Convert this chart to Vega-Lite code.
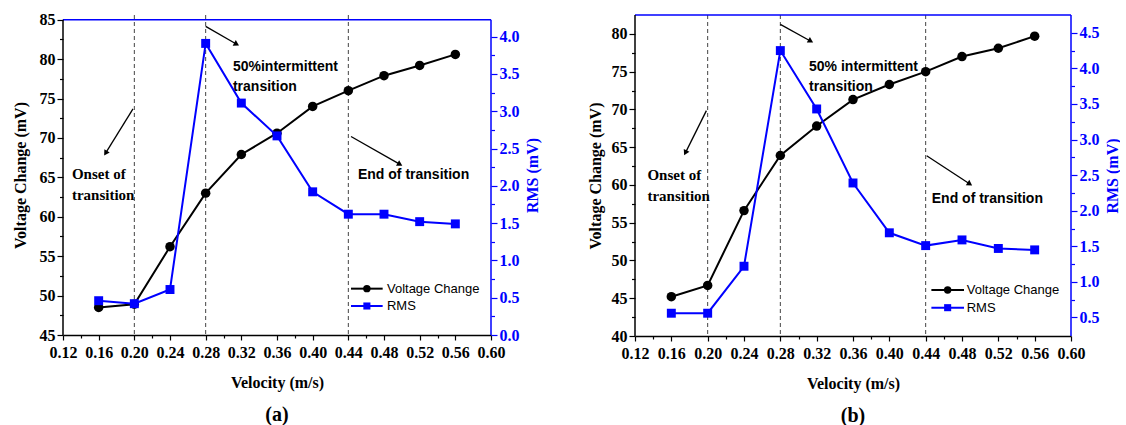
{
  "$schema": "https://vega.github.io/schema/vega-lite/v6.json",
  "padding": {"left": 12, "top": 11, "right": 0, "bottom": 0},
  "background": "white",
  "spacing": 47,
  "datasets": {
    "a": [
      {"velocity": 0.16, "voltage": 48.5, "rms": 0.46},
      {"velocity": 0.20, "voltage": 48.9, "rms": 0.42},
      {"velocity": 0.24, "voltage": 56.2, "rms": 0.61},
      {"velocity": 0.28, "voltage": 63.0, "rms": 3.91},
      {"velocity": 0.32, "voltage": 67.9, "rms": 3.11},
      {"velocity": 0.36, "voltage": 70.6, "rms": 2.67},
      {"velocity": 0.40, "voltage": 74.0, "rms": 1.92},
      {"velocity": 0.44, "voltage": 76.0, "rms": 1.62},
      {"velocity": 0.48, "voltage": 77.9, "rms": 1.62},
      {"velocity": 0.52, "voltage": 79.2, "rms": 1.52},
      {"velocity": 0.56, "voltage": 80.6, "rms": 1.49}
    ],
    "b": [
      {"velocity": 0.16, "voltage": 45.2, "rms": 0.56},
      {"velocity": 0.20, "voltage": 46.7, "rms": 0.56},
      {"velocity": 0.24, "voltage": 56.6, "rms": 1.22},
      {"velocity": 0.28, "voltage": 63.9, "rms": 4.25},
      {"velocity": 0.32, "voltage": 67.8, "rms": 3.43},
      {"velocity": 0.36, "voltage": 71.3, "rms": 2.39},
      {"velocity": 0.40, "voltage": 73.3, "rms": 1.69},
      {"velocity": 0.44, "voltage": 75.0, "rms": 1.51},
      {"velocity": 0.48, "voltage": 77.0, "rms": 1.59},
      {"velocity": 0.52, "voltage": 78.1, "rms": 1.47},
      {"velocity": 0.56, "voltage": 79.7, "rms": 1.45}
    ],
    "marks": [{"velocity": 0.20}, {"velocity": 0.28}, {"velocity": 0.44}],
    "one": [{}]
  },
  "hconcat": [
    {
      "width": 428,
      "height": 320,
      "title": {"text": "(a)", "orient": "bottom", "font": "Liberation Serif", "fontSize": 20, "fontWeight": "bold", "offset": 15, "frame": "group", "color": "black"},
      "layer": [
        {
          "layer": [
            {"data": {"name": "marks"}, "mark": {"type": "rule", "color": "#444", "strokeDash": [4, 3], "strokeWidth": 1}, "encoding": {"x": {"field": "velocity", "type": "quantitative"}}},
            {"data": {"name": "one"}, "mark": {"type": "rule", "color": "#0000ff", "strokeWidth": 1.5}, "encoding": {"y": {"datum": 85, "type": "quantitative"}}},
            {"data": {"name": "one"}, "mark": {"type": "rule", "color": "#0000ff", "strokeWidth": 1.5}, "encoding": {"x": {"datum": 0.6, "type": "quantitative"}, "y": {"datum": 45, "type": "quantitative"}, "y2": {"datum": 85}}},
            {"data": {"name": "one"}, "mark": {"type": "rule", "color": "black", "strokeWidth": 1.5}, "encoding": {"x": {"datum": 0.12, "type": "quantitative"}, "y": {"datum": 45, "type": "quantitative"}, "y2": {"datum": 85}}},
            {
              "data": {"name": "a"},
              "mark": {"type": "line", "color": "black", "strokeWidth": 2},
              "encoding": {
                "x": {"field": "velocity", "type": "quantitative", "scale": {"domain": [0.12, 0.6], "nice": false, "zero": false},
                  "axis": {"orient": "bottom", "title": "Velocity (m/s)", "values": [0.12,0.2,0.28,0.36,0.44,0.52,0.6],
                    "format": ".2f", "tickSize": 5, "labelPadding": 4, "titlePadding": 14}},
                "y": {"field": "voltage", "type": "quantitative", "scale": {"domain": [45, 85.6], "nice": false, "zero": false},
                  "axis": {"orient": "left", "title": "Voltage Change (mV)", "values": [45,55,65,75,85],
                    "format": "d", "tickSize": 6, "domain": false, "labelPadding": 2, "titlePadding": 11}}
              }
            },
            {"data": {"name": "a"}, "mark": {"type": "point", "shape": "circle", "filled": true, "size": 90, "color": "black", "opacity": 1}, "encoding": {"x": {"field": "velocity", "type": "quantitative"}, "y": {"field": "voltage", "type": "quantitative"}}},
            {"data": {"name": "one"}, "mark": {"type": "rule", "color": "black", "strokeWidth": 1.3}, "encoding": {"x": {"datum": 0.1985, "type": "quantitative"}, "y": {"datum": 73.7, "type": "quantitative"}, "x2": {"datum": 0.1683}, "y2": {"datum": 68.16}}},
            {"data": {"name": "one"}, "mark": {"type": "point", "shape": "triangle", "filled": true, "size": 40, "angle": 211.7, "color": "black", "opacity": 1}, "encoding": {"x": {"datum": 0.1683, "type": "quantitative"}, "y": {"datum": 68.16, "type": "quantitative"}}},
            {"data": {"name": "one"}, "mark": {"type": "rule", "color": "black", "strokeWidth": 1.3}, "encoding": {"x": {"datum": 0.28, "type": "quantitative"}, "y": {"datum": 84.15, "type": "quantitative"}, "x2": {"datum": 0.3138}, "y2": {"datum": 81.95}}},
            {"data": {"name": "one"}, "mark": {"type": "point", "shape": "triangle", "filled": true, "size": 40, "angle": 119.4, "color": "black", "opacity": 1}, "encoding": {"x": {"datum": 0.3138, "type": "quantitative"}, "y": {"datum": 81.95, "type": "quantitative"}}},
            {"data": {"name": "one"}, "mark": {"type": "rule", "color": "black", "strokeWidth": 1.3}, "encoding": {"x": {"datum": 0.443, "type": "quantitative"}, "y": {"datum": 70.18, "type": "quantitative"}, "x2": {"datum": 0.497}, "y2": {"datum": 66.71}}},
            {"data": {"name": "one"}, "mark": {"type": "point", "shape": "triangle", "filled": true, "size": 40, "angle": 119.5, "color": "black", "opacity": 1}, "encoding": {"x": {"datum": 0.497, "type": "quantitative"}, "y": {"datum": 66.71, "type": "quantitative"}}},
            {"data": {"name": "one"}, "mark": {"type": "text", "text": ["Onset of", "transition"], "lineHeight": 21, "align": "left", "baseline": "middle", "font": "Liberation Serif", "fontWeight": "bold", "fontSize": 15, "color": "black"}, "encoding": {"x": {"datum": 0.13, "type": "quantitative"}, "y": {"datum": 65.38, "type": "quantitative"}}},
            {"data": {"name": "one"}, "mark": {"type": "text", "text": ["50%intermittent", "transition"], "lineHeight": 20, "align": "left", "baseline": "middle", "font": "Liberation Sans", "fontWeight": "bold", "fontSize": 14, "color": "black"}, "encoding": {"x": {"datum": 0.3106, "type": "quantitative"}, "y": {"datum": 79.03, "type": "quantitative"}}},
            {"data": {"name": "one"}, "mark": {"type": "text", "text": "End of transition", "align": "left", "baseline": "middle", "font": "Liberation Sans", "fontWeight": "bold", "fontSize": 14, "color": "black"}, "encoding": {"x": {"datum": 0.4508, "type": "quantitative"}, "y": {"datum": 65.32, "type": "quantitative"}}},
            {"data": {"name": "one"}, "mark": {"type": "rule", "color": "black", "strokeWidth": 2}, "encoding": {"x": {"datum": 0.443, "type": "quantitative"}, "y": {"datum": 50.88, "type": "quantitative"}, "x2": {"datum": 0.4785}}},
            {"data": {"name": "one"}, "mark": {"type": "point", "shape": "circle", "filled": true, "size": 55, "color": "black", "opacity": 1}, "encoding": {"x": {"datum": 0.4608, "type": "quantitative"}, "y": {"datum": 50.88, "type": "quantitative"}}},
            {"data": {"name": "one"}, "mark": {"type": "text", "text": "Voltage Change", "align": "left", "baseline": "middle", "font": "Liberation Sans", "fontSize": 13, "color": "black"}, "encoding": {"x": {"datum": 0.4833, "type": "quantitative"}, "y": {"datum": 50.88, "type": "quantitative"}}},
            {"data": {"name": "one"}, "mark": {"type": "rule", "color": "#0000ff", "strokeWidth": 2}, "encoding": {"x": {"datum": 0.443, "type": "quantitative"}, "y": {"datum": 48.68, "type": "quantitative"}, "x2": {"datum": 0.4785}}},
            {"data": {"name": "one"}, "mark": {"type": "point", "shape": "square", "filled": true, "size": 50, "color": "#0000ff", "opacity": 1}, "encoding": {"x": {"datum": 0.4608, "type": "quantitative"}, "y": {"datum": 48.68, "type": "quantitative"}}},
            {"data": {"name": "one"}, "mark": {"type": "text", "text": "RMS", "align": "left", "baseline": "middle", "font": "Liberation Sans", "fontSize": 13, "color": "black"}, "encoding": {"x": {"datum": 0.4833, "type": "quantitative"}, "y": {"datum": 48.68, "type": "quantitative"}}}
          ]
        },
        {
          "data": {"name": "a"},
          "layer": [
            {
              "mark": {"type": "line", "color": "#0000ff", "strokeWidth": 2},
              "encoding": {
                "x": {"field": "velocity", "type": "quantitative", "scale": {"domain": [0.12, 0.6], "nice": false, "zero": false},
                  "axis": {"orient": "bottom", "title": null, "values": [0.14,0.18,0.22,0.26,0.3,0.34,0.38,0.42,0.46,0.5,0.54,0.58], "labels": false, "domain": false, "tickSize": 3}},
                "y": {"field": "rms", "type": "quantitative", "scale": {"domain": [0, 4.291], "nice": false, "zero": false},
                  "axis": {"orient": "right", "title": "RMS (mV)", "titleAngle": 270, "titleBaseline": "top", "values": [0,1,2,3,4],
                    "format": ".1f", "tickSize": 6, "domain": false, "labelPadding": 2, "titlePadding": 5,
                    "tickColor": "#0000ff", "labelColor": "#0000ff", "titleColor": "#0000ff"}}
              }
            },
            {"mark": {"type": "point", "shape": "square", "filled": true, "size": 80, "color": "#0000ff", "opacity": 1}, "encoding": {"x": {"field": "velocity", "type": "quantitative"}, "y": {"field": "rms", "type": "quantitative"}}}
          ]
        },
        {
          "data": {"name": "one"},
          "mark": {"type": "point", "opacity": 0},
          "encoding": {
            "x": {"datum": 0.3, "type": "quantitative", "scale": {"domain": [0.12, 0.6], "nice": false, "zero": false},
              "axis": {"orient": "bottom", "title": null, "values": [0.16,0.24,0.32,0.4,0.48,0.56], "format": ".2f", "domain": false, "tickSize": 5, "labelPadding": 4}},
            "y": {"datum": 60, "type": "quantitative", "scale": {"domain": [45, 85.6], "nice": false, "zero": false},
              "axis": {"orient": "left", "title": null, "values": [50,60,70,80], "format": "d", "domain": false, "tickSize": 6, "labelPadding": 2}}
          }
        },
        {
          "data": {"name": "one"},
          "mark": {"type": "point", "opacity": 0},
          "encoding": {
            "x": {"datum": 0.3, "type": "quantitative", "scale": {"domain": [0.12, 0.6], "nice": false, "zero": false}, "axis": null},
            "y": {"datum": 2, "type": "quantitative", "scale": {"domain": [0, 4.291], "nice": false, "zero": false},
              "axis": {"orient": "right", "title": null, "values": [0.5,1.5,2.5,3.5], "format": ".1f", "domain": false, "tickSize": 6, "labelPadding": 2, "tickColor": "#0000ff", "labelColor": "#0000ff"}}
          }
        },
        {
          "data": {"name": "one"},
          "mark": {"type": "point", "opacity": 0},
          "encoding": {
            "x": {"datum": 0.3, "type": "quantitative", "scale": {"domain": [0.12, 0.6], "nice": false, "zero": false}, "axis": null},
            "y": {"datum": 60, "type": "quantitative", "scale": {"domain": [45, 85.6], "nice": false, "zero": false},
              "axis": {"orient": "left", "title": null, "values": [47.5,52.5,57.5,62.5,67.5,72.5,77.5,82.5], "labels": false, "domain": false, "tickSize": 3.5}}
          }
        },
        {
          "data": {"name": "one"},
          "mark": {"type": "point", "opacity": 0},
          "encoding": {
            "x": {"datum": 0.3, "type": "quantitative", "scale": {"domain": [0.12, 0.6], "nice": false, "zero": false}, "axis": null},
            "y": {"datum": 2, "type": "quantitative", "scale": {"domain": [0, 4.291], "nice": false, "zero": false},
              "axis": {"orient": "right", "title": null, "values": [0.25,0.75,1.25,1.75,2.25,2.75,3.25,3.75], "labels": false, "domain": false, "tickSize": 3.5, "tickColor": "#0000ff"}}
          }
        }
      ],
      "resolve": {"scale": {"x": "independent", "y": "independent"}}
    },
    {
      "width": 436,
      "height": 321,
      "title": {"text": "(b)", "orient": "bottom", "font": "Liberation Serif", "fontSize": 20, "fontWeight": "bold", "offset": 15, "frame": "group", "color": "black"},
      "layer": [
        {
          "layer": [
            {"data": {"name": "marks"}, "mark": {"type": "rule", "color": "#444", "strokeDash": [4, 3], "strokeWidth": 1}, "encoding": {"x": {"field": "velocity", "type": "quantitative"}}},
            {"data": {"name": "one"}, "mark": {"type": "rule", "color": "#0000ff", "strokeWidth": 1.5}, "encoding": {"y": {"datum": 82.5, "type": "quantitative"}}},
            {"data": {"name": "one"}, "mark": {"type": "rule", "color": "#0000ff", "strokeWidth": 1.5}, "encoding": {"x": {"datum": 0.6, "type": "quantitative"}, "y": {"datum": 40, "type": "quantitative"}, "y2": {"datum": 82.5}}},
            {"data": {"name": "one"}, "mark": {"type": "rule", "color": "black", "strokeWidth": 1.5}, "encoding": {"x": {"datum": 0.12, "type": "quantitative"}, "y": {"datum": 40, "type": "quantitative"}, "y2": {"datum": 82.5}}},
            {
              "data": {"name": "b"},
              "mark": {"type": "line", "color": "black", "strokeWidth": 2},
              "encoding": {
                "x": {"field": "velocity", "type": "quantitative", "scale": {"domain": [0.12, 0.6], "nice": false, "zero": false},
                  "axis": {"orient": "bottom", "title": "Velocity (m/s)", "values": [0.12,0.2,0.28,0.36,0.44,0.52,0.6],
                    "format": ".2f", "tickSize": 5, "labelPadding": 4, "titlePadding": 14}},
                "y": {"field": "voltage", "type": "quantitative", "scale": {"domain": [40, 82.5], "nice": false, "zero": false},
                  "axis": {"orient": "left", "title": "Voltage Change (mV)", "values": [40,45,50,55,60,65,70,75,80],
                    "format": "d", "tickSize": 6, "domain": false, "labelPadding": 2, "titlePadding": 8}}
              }
            },
            {"data": {"name": "b"}, "mark": {"type": "point", "shape": "circle", "filled": true, "size": 90, "color": "black", "opacity": 1}, "encoding": {"x": {"field": "velocity", "type": "quantitative"}, "y": {"field": "voltage", "type": "quantitative"}}},
            {"data": {"name": "one"}, "mark": {"type": "rule", "color": "black", "strokeWidth": 1.3}, "encoding": {"x": {"datum": 0.1986, "type": "quantitative"}, "y": {"datum": 69.84, "type": "quantitative"}, "x2": {"datum": 0.1759}, "y2": {"datum": 64.35}}},
            {"data": {"name": "one"}, "mark": {"type": "point", "shape": "triangle", "filled": true, "size": 40, "angle": 206.5, "color": "black", "opacity": 1}, "encoding": {"x": {"datum": 0.1759, "type": "quantitative"}, "y": {"datum": 64.35, "type": "quantitative"}}},
            {"data": {"name": "one"}, "mark": {"type": "rule", "color": "black", "strokeWidth": 1.3}, "encoding": {"x": {"datum": 0.28, "type": "quantitative"}, "y": {"datum": 81.25, "type": "quantitative"}, "x2": {"datum": 0.3126}, "y2": {"datum": 79.09}}},
            {"data": {"name": "one"}, "mark": {"type": "point", "shape": "triangle", "filled": true, "size": 40, "angle": 119.2, "color": "black", "opacity": 1}, "encoding": {"x": {"datum": 0.3126, "type": "quantitative"}, "y": {"datum": 79.09, "type": "quantitative"}}},
            {"data": {"name": "one"}, "mark": {"type": "rule", "color": "black", "strokeWidth": 1.3}, "encoding": {"x": {"datum": 0.4411, "type": "quantitative"}, "y": {"datum": 63.87, "type": "quantitative"}, "x2": {"datum": 0.4878}, "y2": {"datum": 60.19}}},
            {"data": {"name": "one"}, "mark": {"type": "point", "shape": "triangle", "filled": true, "size": 40, "angle": 123.3, "color": "black", "opacity": 1}, "encoding": {"x": {"datum": 0.4878, "type": "quantitative"}, "y": {"datum": 60.19, "type": "quantitative"}}},
            {"data": {"name": "one"}, "mark": {"type": "text", "text": ["Onset of", "transition"], "lineHeight": 21, "align": "left", "baseline": "middle", "font": "Liberation Serif", "fontWeight": "bold", "fontSize": 15, "color": "black"}, "encoding": {"x": {"datum": 0.1337, "type": "quantitative"}, "y": {"datum": 61.29, "type": "quantitative"}}},
            {"data": {"name": "one"}, "mark": {"type": "text", "text": ["50% intermittent", "transition"], "lineHeight": 20, "align": "left", "baseline": "middle", "font": "Liberation Sans", "fontWeight": "bold", "fontSize": 14, "color": "black"}, "encoding": {"x": {"datum": 0.3116, "type": "quantitative"}, "y": {"datum": 75.68, "type": "quantitative"}}},
            {"data": {"name": "one"}, "mark": {"type": "text", "text": "End of transition", "align": "left", "baseline": "middle", "font": "Liberation Sans", "fontWeight": "bold", "fontSize": 14, "color": "black"}, "encoding": {"x": {"datum": 0.4467, "type": "quantitative"}, "y": {"datum": 58.13, "type": "quantitative"}}},
            {"data": {"name": "one"}, "mark": {"type": "rule", "color": "black", "strokeWidth": 2}, "encoding": {"x": {"datum": 0.4463, "type": "quantitative"}, "y": {"datum": 46.1, "type": "quantitative"}, "x2": {"datum": 0.4822}}},
            {"data": {"name": "one"}, "mark": {"type": "point", "shape": "circle", "filled": true, "size": 55, "color": "black", "opacity": 1}, "encoding": {"x": {"datum": 0.4642, "type": "quantitative"}, "y": {"datum": 46.1, "type": "quantitative"}}},
            {"data": {"name": "one"}, "mark": {"type": "text", "text": "Voltage Change", "align": "left", "baseline": "middle", "font": "Liberation Sans", "fontSize": 13, "color": "black"}, "encoding": {"x": {"datum": 0.4852, "type": "quantitative"}, "y": {"datum": 46.1, "type": "quantitative"}}},
            {"data": {"name": "one"}, "mark": {"type": "rule", "color": "#0000ff", "strokeWidth": 2}, "encoding": {"x": {"datum": 0.4463, "type": "quantitative"}, "y": {"datum": 43.75, "type": "quantitative"}, "x2": {"datum": 0.4822}}},
            {"data": {"name": "one"}, "mark": {"type": "point", "shape": "square", "filled": true, "size": 50, "color": "#0000ff", "opacity": 1}, "encoding": {"x": {"datum": 0.4642, "type": "quantitative"}, "y": {"datum": 43.75, "type": "quantitative"}}},
            {"data": {"name": "one"}, "mark": {"type": "text", "text": "RMS", "align": "left", "baseline": "middle", "font": "Liberation Sans", "fontSize": 13, "color": "black"}, "encoding": {"x": {"datum": 0.4852, "type": "quantitative"}, "y": {"datum": 43.75, "type": "quantitative"}}}
          ]
        },
        {
          "data": {"name": "b"},
          "layer": [
            {
              "mark": {"type": "line", "color": "#0000ff", "strokeWidth": 2},
              "encoding": {
                "x": {"field": "velocity", "type": "quantitative", "scale": {"domain": [0.12, 0.6], "nice": false, "zero": false},
                  "axis": {"orient": "bottom", "title": null, "values": [0.14,0.18,0.22,0.26,0.3,0.34,0.38,0.42,0.46,0.5,0.54,0.58], "labels": false, "domain": false, "tickSize": 3}},
                "y": {"field": "rms", "type": "quantitative", "scale": {"domain": [0.24, 4.75], "nice": false, "zero": false},
                  "axis": {"orient": "right", "title": "RMS (mV)", "titleAngle": 270, "titleBaseline": "top", "values": [0.5,1,1.5,2,2.5,3,3.5,4,4.5],
                    "format": ".1f", "tickSize": 6, "domain": false, "labelPadding": 2, "titlePadding": 5,
                    "tickColor": "#0000ff", "labelColor": "#0000ff", "titleColor": "#0000ff"}}
              }
            },
            {"mark": {"type": "point", "shape": "square", "filled": true, "size": 80, "color": "#0000ff", "opacity": 1}, "encoding": {"x": {"field": "velocity", "type": "quantitative"}, "y": {"field": "rms", "type": "quantitative"}}}
          ]
        },
        {
          "data": {"name": "one"},
          "mark": {"type": "point", "opacity": 0},
          "encoding": {
            "x": {"datum": 0.3, "type": "quantitative", "scale": {"domain": [0.12, 0.6], "nice": false, "zero": false},
              "axis": {"orient": "bottom", "title": null, "values": [0.16,0.24,0.32,0.4,0.48,0.56], "format": ".2f", "domain": false, "tickSize": 5, "labelPadding": 4}},
            "y": {"datum": 60, "type": "quantitative", "scale": {"domain": [40, 82.5], "nice": false, "zero": false},
              "axis": {"orient": "left", "title": null, "values": [42.5,47.5,52.5,57.5,62.5,67.5,72.5,77.5], "labels": false, "domain": false, "tickSize": 3.5}}
          }
        },
        {
          "data": {"name": "one"},
          "mark": {"type": "point", "opacity": 0},
          "encoding": {
            "x": {"datum": 0.3, "type": "quantitative", "scale": {"domain": [0.12, 0.6], "nice": false, "zero": false}, "axis": null},
            "y": {"datum": 2, "type": "quantitative", "scale": {"domain": [0.24, 4.75], "nice": false, "zero": false},
              "axis": {"orient": "right", "title": null, "values": [0.75,1.25,1.75,2.25,2.75,3.25,3.75,4.25], "labels": false, "domain": false, "tickSize": 3.5, "tickColor": "#0000ff"}}
          }
        }
      ],
      "resolve": {"scale": {"x": "independent", "y": "independent"}}
    }
  ],
  "config": {
    "view": {"stroke": null},
    "axis": {
      "grid": false,
      "labelOverlap": false,
      "labelFlush": false,
      "domainWidth": 1.5,
      "domainColor": "black",
      "tickColor": "black",
      "tickWidth": 1.2,
      "labelFont": "Liberation Serif",
      "labelFontWeight": "bold",
      "labelFontSize": 16,
      "labelColor": "black",
      "titleFont": "Liberation Serif",
      "titleFontWeight": "bold",
      "titleFontSize": 16,
      "titleColor": "black"
    }
  }
}
